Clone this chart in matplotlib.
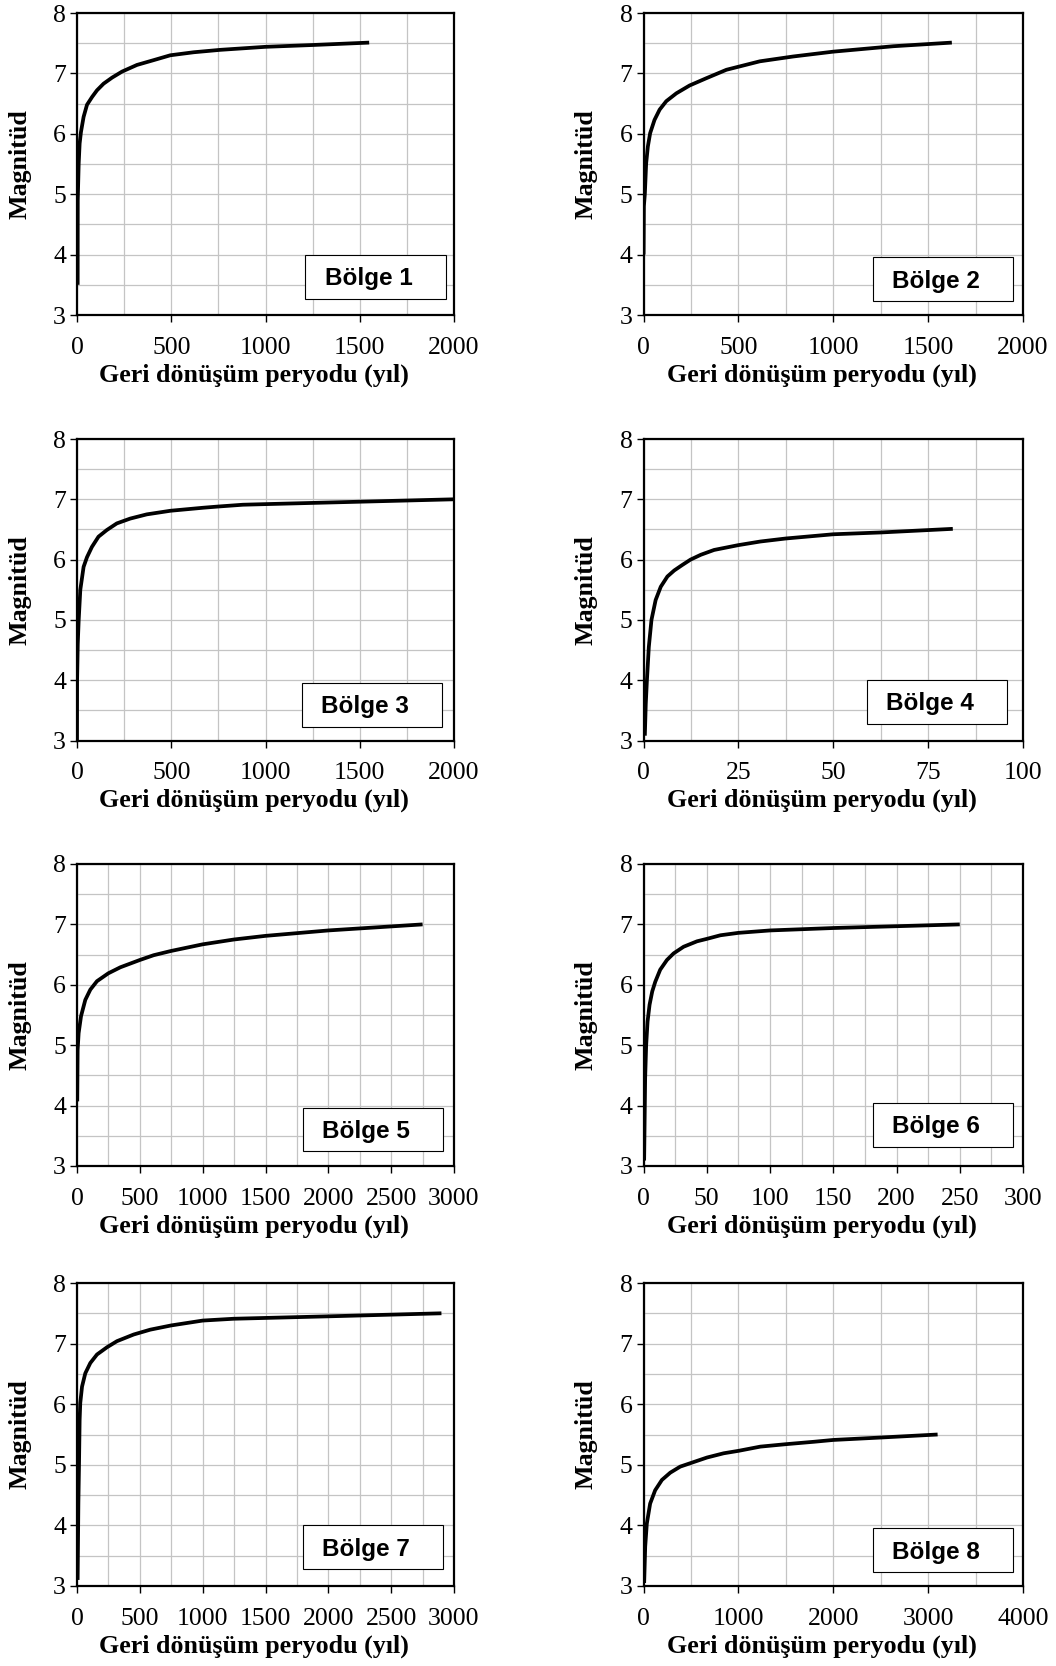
import matplotlib
matplotlib.use("Agg")
import matplotlib.pyplot as plt
from matplotlib.patches import Rectangle
from matplotlib.ticker import MultipleLocator

plt.rcParams['font.family'] = ['Liberation Serif', 'DejaVu Serif']

# values (return period in years, magnitude)
bolge1_x = [3.5, 4, 9, 14, 21, 35, 53, 80, 106, 141, 186, 239, 318, 407, 495, 619, 760, 1000, 1250, 1550]
bolge1_y = [3.5, 4.9, 5.51, 5.84, 6.03, 6.28, 6.48, 6.61, 6.72, 6.83, 6.93, 7.03, 7.14, 7.22, 7.30, 7.35, 7.39, 7.44, 7.47, 7.51]

bolge2_x = [0.5, 2, 7, 14, 23, 35, 58, 85, 120, 173, 243, 331, 437, 613, 789, 1000, 1317, 1625]
bolge2_y = [4.0, 4.8, 5.0, 5.51, 5.79, 6.01, 6.23, 6.40, 6.54, 6.67, 6.80, 6.92, 7.06, 7.2, 7.28, 7.36, 7.45, 7.51]

bolge3_x = [0, 0.5, 4, 9, 17.6, 35, 53, 79, 114, 158, 211, 282, 370, 496, 669, 748, 880, 1000, 1500, 2000]
bolge3_y = [3.0, 4.0, 4.6, 5.0, 5.5, 5.88, 6.04, 6.21, 6.38, 6.49, 6.6, 6.68, 6.75, 6.81, 6.86, 6.88, 6.91, 6.92, 6.96, 7.0]

bolge4_x = [0.35, 0.6, 0.9, 1.4, 2.1, 3.2, 4.55, 6.3, 8.1, 10.2, 12.4, 15.1, 18.6, 25, 30.8, 37.5, 50, 62.5, 81.5]
bolge4_y = [3.08, 3.61, 4.0, 4.55, 5.0, 5.33, 5.55, 5.72, 5.82, 5.91, 6.0, 6.08, 6.16, 6.24, 6.30, 6.35, 6.42, 6.45, 6.51]

bolge5_x = [2, 5, 13, 32, 66, 106, 159, 249, 345, 499, 610, 748, 1000, 1249, 1499, 2000, 2750]
bolge5_y = [4.07, 4.92, 5.2, 5.48, 5.75, 5.92, 6.06, 6.19, 6.29, 6.41, 6.49, 6.56, 6.67, 6.75, 6.81, 6.90, 7.0]

bolge6_x = [0.5, 1.3, 2.1, 3.2, 4.8, 6.9, 9.3, 13.2, 18.5, 23.8, 31.7, 42.3, 50, 60.8, 75, 100, 150, 200, 250]
bolge6_y = [3.09, 4.45, 5.0, 5.39, 5.67, 5.89, 6.05, 6.25, 6.41, 6.52, 6.63, 6.72, 6.76, 6.82, 6.86, 6.9, 6.94, 6.97, 7.0]

bolge7_x = [5, 11, 16, 21, 26, 40, 66, 106, 159, 239, 318, 451, 583, 750, 1000, 1246, 2000, 2900]
bolge7_y = [3.1, 4.37, 5.0, 5.74, 6.02, 6.29, 6.51, 6.68, 6.82, 6.94, 7.04, 7.15, 7.23, 7.30, 7.38, 7.41, 7.45, 7.5]

bolge8_x = [7, 18, 35, 70, 123, 194, 282, 387, 500, 669, 845, 1000, 1232, 1500, 1796, 2000, 2500, 3100]
bolge8_y = [3.05, 3.65, 4.03, 4.36, 4.58, 4.75, 4.87, 4.97, 5.03, 5.12, 5.19, 5.23, 5.3, 5.34, 5.38, 5.41, 5.45, 5.5]

names = ['Bölge 1', 'Bölge 2', 'Bölge 3', 'Bölge 4',
         'Bölge 5', 'Bölge 6', 'Bölge 7', 'Bölge 8']
x_max = [2000, 2000, 2000, 100, 3000, 300, 3000, 4000]
x_step = [500, 500, 500, 25, 500, 50, 500, 1000]

xs = [bolge1_x, bolge2_x, bolge3_x, bolge4_x, bolge5_x, bolge6_x, bolge7_x, bolge8_x]
ys = [bolge1_y, bolge2_y, bolge3_y, bolge4_y, bolge5_y, bolge6_y, bolge7_y, bolge8_y]

# label box in axes fraction: x0, y0, x1, y1
boxes = [(0.605, 0.053, 0.979, 0.199), (0.604, 0.046, 0.974, 0.192),
         (0.597, 0.046, 0.968, 0.192), (0.589, 0.056, 0.958, 0.202),
         (0.600, 0.050, 0.971, 0.192), (0.604, 0.063, 0.974, 0.209),
         (0.600, 0.056, 0.971, 0.200), (0.605, 0.046, 0.974, 0.190)]

W, H = 1056, 1666
cols = [(77, 454), (643.5, 1023)]
rows = [(13, 315), (439, 740.5), (864, 1166), (1283, 1586)]


def draw_panel(ax, x, y, xmax, step, name, box):
    ax.set_xlim(0, xmax)
    ax.set_ylim(3, 8)
    ax.xaxis.set_major_locator(MultipleLocator(step))
    ax.xaxis.set_minor_locator(MultipleLocator(step / 2))
    ax.yaxis.set_major_locator(MultipleLocator(1))
    ax.yaxis.set_minor_locator(MultipleLocator(0.5))
    ax.grid(which='both', color='#c4c4c4', lw=0.9, zorder=0)
    ax.set_axisbelow(True)
    ax.tick_params(which='major', direction='out', length=5, width=1,
                   labelsize=18.5, color='black')
    ax.tick_params(axis='x', which='major', pad=10.5)
    ax.tick_params(axis='y', which='major', pad=3)
    ax.tick_params(which='minor', length=0)
    for s in ax.spines.values():
        s.set_linewidth(1.6)

    ax.plot(x, y, color='black', lw=2.7, solid_capstyle='butt',
            solid_joinstyle='round', zorder=3)

    x0, y0, x1, y1 = box
    ax.add_patch(Rectangle((x0, y0), x1 - x0, y1 - y0, transform=ax.transAxes,
                           facecolor='white', edgecolor='black', lw=0.8, zorder=4))
    ax.text((x0 + x1) / 2 - 0.018, (y0 + y1) / 2 - 0.028, name,
            transform=ax.transAxes, ha='center', va='baseline',
            family='Liberation Sans', fontweight='bold', fontsize=17.5, zorder=5)

    ax.set_xlabel('Geri dönüşüm peryodu (yıl)', fontsize=18.7, fontweight='bold', va='center')
    ax.xaxis.set_label_coords(0.47, -0.199)
    ax.set_ylabel('Magnitüd', fontsize=18.7, fontweight='bold', va='center')
    ax.yaxis.set_label_coords(-0.151, 0.5)


fig = plt.figure(figsize=(W / 100, H / 100), dpi=100)
for i in range(8):
    r, c = i // 2, i % 2
    left, right = cols[c]
    top, bottom = rows[r]
    ax = fig.add_axes([left / W, 1 - bottom / H, (right - left) / W, (bottom - top) / H])
    draw_panel(ax, xs[i], ys[i], x_max[i], x_step[i], names[i], boxes[i])

fig.savefig('out.png', dpi=100)
